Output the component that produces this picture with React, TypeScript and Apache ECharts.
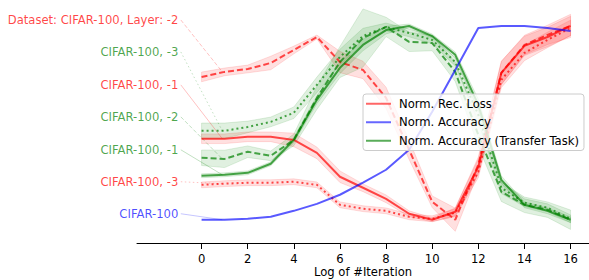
import React, { useEffect, useRef } from "react";
import * as echarts from "echarts";

// x positions (log of #iteration)
const iters = [0, 1, 2, 3, 4, 5, 6, 7, 8, 9, 10, 11, 12, 13, 14, 15, 16];
const xTicks = [0, 2, 4, 6, 8, 10, 12, 14, 16];

// Norm. Rec. Loss (red)
const recLayer2 = [0.737, 0.763, 0.778, 0.809, 0.876, 0.943, 0.814, 0.773, 0.629, 0.361, 0.093, 0.0, 0.284, 0.758, 0.902, 0.954, 1.0];
const recLayer1 = [0.418, 0.418, 0.428, 0.428, 0.412, 0.345, 0.222, 0.165, 0.108, 0.031, 0.0, 0.041, 0.273, 0.758, 0.897, 0.943, 1.0];
const recLayer3 = [0.18, 0.186, 0.191, 0.191, 0.196, 0.18, 0.077, 0.057, 0.046, 0.015, 0.005, 0.036, 0.247, 0.722, 0.861, 0.928, 0.99];
// Norm. Accuracy (blue)
const accBase = [0.0, 0.0, 0.005, 0.015, 0.046, 0.082, 0.129, 0.191, 0.258, 0.361, 0.557, 0.773, 0.99, 1.0, 1.0, 0.99, 0.974];
// Norm. Accuracy (Transfer Task) (green)
const trLayer1 = [0.227, 0.232, 0.242, 0.289, 0.412, 0.619, 0.784, 0.902, 0.979, 1.0, 0.948, 0.851, 0.593, 0.206, 0.077, 0.046, 0.0];
const trLayer2 = [0.32, 0.314, 0.351, 0.33, 0.412, 0.629, 0.814, 0.938, 0.995, 0.918, 0.912, 0.763, 0.438, 0.144, 0.077, 0.052, 0.0];
const trLayer3 = [0.459, 0.459, 0.479, 0.505, 0.552, 0.696, 0.84, 0.948, 0.995, 0.964, 0.928, 0.814, 0.541, 0.165, 0.088, 0.062, 0.005];

// half-widths of shaded bands
const recLayer2Sd = [0.025, 0.02, 0.02, 0.035, 0.02, 0.01, 0.055, 0.045, 0.055, 0.05, 0.03, 0.06, 0.04, 0.06, 0.05, 0.05, 0.06];
const recLayer1Sd = [0.025, 0.025, 0.025, 0.025, 0.035, 0.03, 0.03, 0.02, 0.02, 0.015, 0.01, 0.02, 0.04, 0.06, 0.05, 0.05, 0.05];
const recLayer3Sd = [0.015, 0.015, 0.015, 0.015, 0.015, 0.015, 0.015, 0.015, 0.015, 0.015, 0.015, 0.02, 0.03, 0.04, 0.04, 0.04, 0.04];
const trLayer1Sd = [0.01, 0.01, 0.01, 0.01, 0.015, 0.02, 0.03, 0.03, 0.02, 0.01, 0.01, 0.015, 0.03, 0.02, 0.015, 0.015, 0.015];
const trLayer2Sd = [0.04, 0.045, 0.03, 0.025, 0.03, 0.06, 0.08, 0.15, 0.05, 0.05, 0.04, 0.05, 0.06, 0.05, 0.04, 0.04, 0.05];
const trLayer3Sd = [0.04, 0.04, 0.03, 0.025, 0.03, 0.04, 0.04, 0.04, 0.02, 0.02, 0.02, 0.02, 0.03, 0.03, 0.02, 0.02, 0.02];

// annotation labels on the left
const labelTexts = [
  "Dataset: CIFAR-100, Layer: -2",
  "CIFAR-100, -3",
  "CIFAR-100, -1",
  "CIFAR-100, -2",
  "CIFAR-100, -1",
  "CIFAR-100, -3",
  "CIFAR-100",
];
const labelLevels = [1.031, 0.866, 0.696, 0.531, 0.361, 0.196, 0.031];
const labelStartX = -0.9;
const labelEndX = 0.9;

const legendNames = ["Norm. Rec. Loss", "Norm. Accuracy", "Norm. Accuracy (Transfer Task)"];

const RED = "rgba(255,0,0,0.7)";
const BLUE = "rgba(0,0,255,0.65)";
const GREEN = "rgba(0,128,0,0.7)";
const FONT = "DejaVu Sans";
const FS = 11.6;

export default function App() {
  const ref = useRef<HTMLDivElement>(null);
  useEffect(() => {
    if (!ref.current) return;
    const chart = echarts.init(ref.current, null, { renderer: "svg" });

    const toPairs = (ys: number[]) => iters.map((x, i) => [x, ys[i]]);

    const band = (mean: number[], sd: number[], fill: string) => ({
      type: "custom",
      silent: true,
      z: 1,
      data: [[iters[0], mean[0]]],
      renderItem: (params: any, api: any) => {
        const pts: number[][] = [];
        for (let i = 0; i < iters.length; i++) pts.push(api.coord([iters[i], mean[i] + sd[i]]));
        for (let i = iters.length - 1; i >= 0; i--) pts.push(api.coord([iters[i], mean[i] - sd[i]]));
        return {
          type: "polygon",
          shape: { points: pts },
          style: { fill, stroke: fill, lineWidth: 1 },
        };
      },
    });

    const line = (ys: number[], color: string, type: any) => ({
      type: "line",
      data: toPairs(ys),
      symbol: "none",
      silent: true,
      z: 3,
      lineStyle: { color, width: 2, type, cap: "butt" },
    });

    const seriesDefs = [
      { ys: recLayer2, color: RED, type: [6, 3], text: "rgba(255,0,0,0.92)" },
      { ys: trLayer3, color: GREEN, type: [2, 3], text: "rgba(0,128,0,0.88)" },
      { ys: recLayer1, color: RED, type: "solid", text: "rgba(255,0,0,0.92)" },
      { ys: trLayer2, color: GREEN, type: [6, 3], text: "rgba(0,128,0,0.88)" },
      { ys: trLayer1, color: GREEN, type: "solid", text: "rgba(0,128,0,0.88)" },
      { ys: recLayer3, color: RED, type: [2, 3], text: "rgba(255,0,0,0.92)" },
      { ys: accBase, color: BLUE, type: "solid", text: "rgba(0,0,255,0.88)" },
    ];

    const connectors = seriesDefs.map((d, i) => ({
      type: "line",
      silent: true,
      symbol: "none",
      z: 2,
      data: [
        [labelStartX, labelLevels[i]],
        [labelEndX, d.ys[1]],
      ],
      lineStyle: {
        color: d.color,
        opacity: 0.35,
        width: 1,
        type: d.type === "solid" ? "solid" : d.type[0] > 3 ? [4, 2] : [1.5, 2.5],
      },
    }));

    const labelSeries = {
      type: "scatter",
      silent: true,
      z: 5,
      symbolSize: 1,
      itemStyle: { color: "transparent" },
      data: labelTexts.map((t, i) => ({
        value: [labelStartX, labelLevels[i]],
        label: {
          show: true,
          position: "left",
          distance: 2,
          formatter: t,
          color: seriesDefs[i].text,
          fontFamily: FONT,
          fontSize: FS,
        },
      })),
    };

    const legendSeries = [
      { name: legendNames[0], color: "rgba(255,0,0,0.6)" },
      { name: legendNames[1], color: "rgba(0,0,255,0.6)" },
      { name: legendNames[2], color: "rgba(0,128,0,0.65)" },
    ].map((l) => ({
      type: "line",
      name: l.name,
      data: [],
      symbol: "none",
      itemStyle: { color: l.color },
      lineStyle: { color: l.color, width: 2 },
    }));

    const option: any = {
      animation: false,
      grid: { left: 137, right: 0, top: 0, bottom: 37, containLabel: false, outerBoundsMode: "none" },
      xAxis: {
        type: "value",
        min: -2.8,
        max: 16.8,
        splitLine: { show: false },
        axisLine: { show: true, onZero: false, lineStyle: { color: "#000", width: 1 } },
        axisTick: { show: true, length: 6, customValues: xTicks, lineStyle: { color: "#000" } },
        axisLabel: {
          customValues: xTicks,
          margin: 10,
          color: "#000",
          fontFamily: FONT,
          fontSize: FS,
        },
        name: "Log of #Iteration",
        nameLocation: "middle",
        nameGap: 23,
        nameMoveOverlap: false,
        nameTextStyle: { color: "#000", fontFamily: FONT, fontSize: FS },
      },
      yAxis: { type: "value", min: -0.12, max: 1.134, show: false },
      legend: {
        data: legendNames,
        orient: "vertical",
        left: 363,
        top: 94,
        icon: "rect",
        itemWidth: 25,
        itemHeight: 2,
        itemGap: 5,
        padding: [3, 5, 3, 3],
        backgroundColor: "rgba(255,255,255,0.8)",
        borderColor: "#cccccc",
        borderWidth: 1,
        borderRadius: 3,
        selectedMode: false,
        textStyle: { color: "#000", fontFamily: FONT, fontSize: FS, padding: [0, 0, 0, 3], lineHeight: 13.5 },
      },
      series: [
        band(recLayer2, recLayer2Sd, "rgba(255,0,0,0.12)"),
        band(recLayer1, recLayer1Sd, "rgba(255,0,0,0.12)"),
        band(recLayer3, recLayer3Sd, "rgba(255,0,0,0.12)"),
        band(trLayer1, trLayer1Sd, "rgba(0,128,0,0.12)"),
        band(trLayer2, trLayer2Sd, "rgba(0,128,0,0.12)"),
        band(trLayer3, trLayer3Sd, "rgba(0,128,0,0.12)"),
        ...seriesDefs.map((d) => line(d.ys, d.color, d.type)),
        ...connectors,
        labelSeries,
        ...legendSeries,
      ],
    };
    chart.setOption(option);
    return () => chart.dispose();
  }, []);
  return (
    <div
      ref={ref}
      style={{ position: "fixed", left: 0, top: 0, width: 589, height: 280, background: "#fff" }}
    />
  );
}
